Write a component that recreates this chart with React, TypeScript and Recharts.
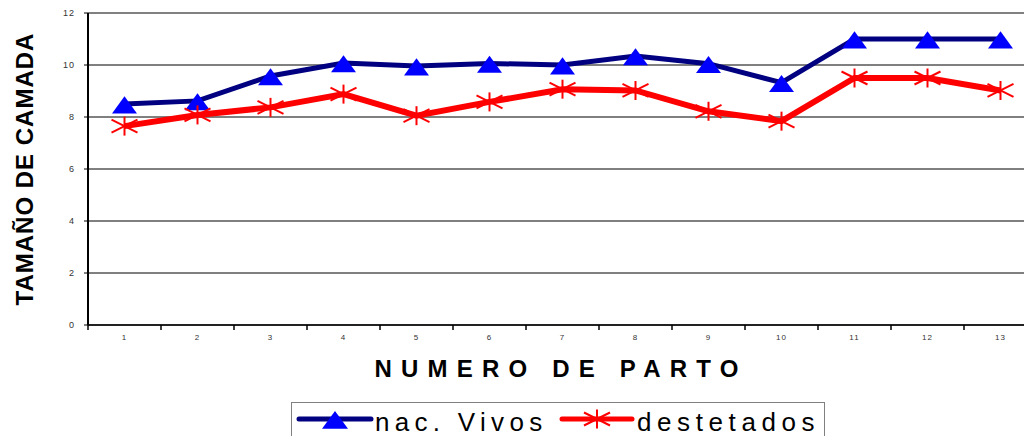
import { LineChart, Line, XAxis, YAxis, CartesianGrid, Legend, ReferenceLine, Label } from 'recharts';

const partos = ['1', '2', '3', '4', '5', '6', '7', '8', '9', '10', '11', '12', '13'];
const nacVivos = [8.5, 8.62, 9.58, 10.08, 9.96, 10.06, 10.0, 10.35, 10.05, 9.32, 11.0, 11.0, 11.0];
const destetados = [7.65, 8.08, 8.37, 8.88, 8.05, 8.58, 9.07, 9.02, 8.22, 7.84, 9.5, 9.5, 9.02];
const yTicks = [0, 2, 4, 6, 8, 10, 12];
const seriesNames = ['nac. Vivos', 'destetados'];

const chartData = partos.map((p, i) => ({
  parto: p,
  vivos: nacVivos[i],
  destetados: destetados[i],
}));

const CHART_W = 1050;
const MARGIN = { top: 13, right: 13, left: 28, bottom: 81 };
const Y_AXIS_W = 60;
const BAND = (CHART_W - MARGIN.left - MARGIN.right - Y_AXIS_W) / partos.length;
const FONT = '"Liberation Sans", Arial, sans-serif';

const Triangle = ({ cx, cy, size = 12.5 }: { cx: number; cy: number; size?: number }) => (
  <polygon
    points={`${cx},${cy - size * 0.62} ${cx - size},${cy + size * 0.75} ${cx + size},${cy + size * 0.75}`}
    fill="#0000FF"
  />
);

const Star = ({ cx, cy }: { cx: number; cy: number }) => (
  <g stroke="#FF0000" strokeWidth={2}>
    <line x1={cx} y1={cy - 9.5} x2={cx} y2={cy + 9.5} />
    <line x1={cx - 13} y1={cy - 6.5} x2={cx + 13} y2={cy + 6.5} />
    <line x1={cx - 13} y1={cy + 6.5} x2={cx + 13} y2={cy - 6.5} />
  </g>
);

const XTick = (props: any) => {
  const { x, y, payload, index } = props;
  const last = index === partos.length - 1;
  return (
    <g>
      <line x1={x - BAND / 2} y1={y} x2={x - BAND / 2} y2={y + 5} stroke="#000" strokeWidth={1.5} />
      {last && <line x1={x + BAND / 2} y1={y} x2={x + BAND / 2} y2={y + 5} stroke="#000" strokeWidth={1.5} />}
      <text x={x} y={y + 15} textAnchor="middle" fontSize={8} fill="#333" letterSpacing={1}>
        {payload.value}
      </text>
    </g>
  );
};

const LegendBox = () => (
  <svg width={534} height={36} style={{ display: 'block', fontFamily: FONT }}>
    <rect x={0.5} y={0.5} width={533} height={40} fill="#fff" stroke="#808080" strokeWidth={1} />
    <line x1={8} y1={17} x2={80} y2={17} stroke="#000080" strokeWidth={5} strokeLinecap="round" />
    <Triangle cx={44} cy={17} size={13} />
    <text x={84} y={29} fontSize={26} letterSpacing={5.3} fill="#000">
      {seriesNames[0]}
    </text>
    <line x1={271} y1={17} x2={341} y2={17} stroke="#FF0000" strokeWidth={5} strokeLinecap="round" />
    <Star cx={306} cy={17} />
    <text x={346} y={29} fontSize={26} letterSpacing={5.6} fill="#000">
      {seriesNames[1]}
    </text>
  </svg>
);

const App = () => {
  return (
    <div style={{ position: 'absolute', left: 0, top: 0, width: 1024, height: 436, overflow: 'hidden', background: '#fff' }}>
      <LineChart
        width={CHART_W}
        height={436}
        data={chartData}
        margin={MARGIN}
        style={{ fontFamily: FONT }}
      >
        <CartesianGrid vertical={false} stroke="#000" strokeWidth={1} />
        <ReferenceLine y={12} stroke="#808080" strokeWidth={2} />
        <XAxis
          dataKey="parto"
          axisLine={{ stroke: '#222', strokeWidth: 2 }}
          tickLine={false}
          tickSize={0}
          tickMargin={0}
          height={30}
          tick={<XTick />}
          interval={0}
          padding={{ left: BAND / 2, right: BAND / 2 }}
        >
          <Label
            content={() => (
              <text
                x={561}
                y={377}
                textAnchor="middle"
                fontSize={24}
                fontWeight="bold"
                letterSpacing={9.2}
                fill="#000"
              >
                NUMERO DE PARTO
              </text>
            )}
          />
        </XAxis>
        <YAxis
          domain={[0, 12]}
          ticks={yTicks}
          width={Y_AXIS_W}
          axisLine={{ stroke: '#000', strokeWidth: 2 }}
          tickLine={{ stroke: '#000' }}
          tickSize={4}
          tickMargin={9}
          tick={{ fontSize: 9, fill: '#333', letterSpacing: 1 }}
        >
          <Label
            content={() => (
              <text
                x={33}
                y={169}
                transform="rotate(-90 33 169)"
                textAnchor="middle"
                fontSize={24}
                fontWeight="bold"
                letterSpacing={1}
                fill="#000"
              >
                TAMAÑO DE CAMADA
              </text>
            )}
          />
        </YAxis>
        <Legend
          layout="horizontal"
          verticalAlign="middle"
          align="center"
          content={() => <LegendBox />}
          wrapperStyle={{ position: 'absolute', left: 291, top: 402, width: 534 }}
        />
        <Line
          type="linear"
          dataKey="vivos"
          name={seriesNames[0]}
          stroke="#000080"
          strokeWidth={5}
          isAnimationActive={false}
          dot={(p: any) => <Triangle key={`t${p.index}`} cx={p.cx} cy={p.cy} />}
        />
        <Line
          type="linear"
          dataKey="destetados"
          name={seriesNames[1]}
          stroke="#FF0000"
          strokeWidth={6}
          isAnimationActive={false}
          dot={(p: any) => <Star key={`s${p.index}`} cx={p.cx} cy={p.cy} />}
        />
      </LineChart>
    </div>
  );
};

export default App;
